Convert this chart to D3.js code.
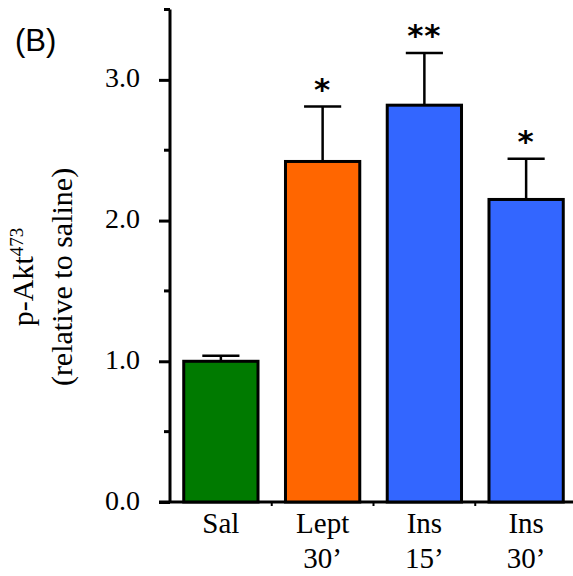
<!DOCTYPE html>
<html>
<head>
<meta charset="utf-8">
<script src="https://cdn.jsdelivr.net/npm/d3@7"></script>
<style>
  body { margin: 0; background: #fff; }
  text { fill: #000; }
</style>
</head>
<body>
<script>
"use strict";

///////////////////
// data
///////////////////

var categories = ["Sal", "Lept 30’", "Ins 15’", "Ins 30’"];
var labelLines = [["Sal"], ["Lept", "30’"], ["Ins", "15’"], ["Ins", "30’"]];
var means = [1.00, 2.42, 2.82, 2.15];
var sems = [0.04, 0.39, 0.37, 0.29];
var stars = ["", "*", "**", "*"];
var colors = ["#007a00", "#ff6600", "#3366ff", "#3366ff"];
var majorTicks = [0, 1, 2, 3];
var minorTicks = [0.5, 1.5, 2.5, 3.5];

(function() {
    var W = 573, H = 576;
    var serif = "'Liberation Serif', 'DejaVu Serif', serif";

    var svg = d3.select("body").append("svg")
        .attr("width", W).attr("height", H);

    var y = d3.scaleLinear().domain([0, 3.5]).range([502, 9.5]);
    var x = d3.scaleBand().domain(categories)
        .range([170, 577])
        .paddingInner(0.27)
        .paddingOuter(0.135);

    // y axis
    var yAxis = d3.axisLeft(y).tickValues(majorTicks)
        .tickSize(11).tickPadding(19)
        .tickFormat(d3.format(".1f"));
    var gy = svg.append("g").attr("transform", "translate(170,0)").call(yAxis);
    gy.select(".domain").attr("stroke-width", 3).attr("d", "M0," + y(3.5) + "V" + y(0));
    gy.selectAll(".tick line").attr("stroke-width", 3);
    gy.selectAll(".tick text")
        .attr("dy", "0.25em")
        .style("font-family", serif).style("font-size", "28px");
    gy.selectAll("line.minor").data(minorTicks).enter().append("line")
        .attr("class", "minor")
        .attr("x1", -6).attr("x2", 0)
        .attr("y1", function(d) { return y(d); })
        .attr("y2", function(d) { return y(d); })
        .attr("stroke", "#000").attr("stroke-width", 3);

    // x axis
    svg.append("line")
        .attr("x1", 159).attr("x2", W)
        .attr("y1", y(0)).attr("y2", y(0))
        .attr("stroke", "#000").attr("stroke-width", 3);
    var sepTicks = categories.slice(1).map(function(c) {
        return x(c) - x.step() * x.paddingInner() / 2;
    });
    svg.selectAll("line.sep").data(sepTicks).enter().append("line")
        .attr("class", "sep")
        .attr("x1", function(d) { return d; }).attr("x2", function(d) { return d; })
        .attr("y1", y(0)).attr("y2", y(0) + 4)
        .attr("stroke", "#000").attr("stroke-width", 2);

    var rows = categories.map(function(c, i) {
        return { cat: c, mean: means[i], sem: sems[i], star: stars[i], color: colors[i], lines: labelLines[i] };
    });

    // error bars (drawn first so bar outline sits on top)
    var bw = x.bandwidth();
    var err = svg.selectAll("g.err").data(rows).enter().append("g").attr("class", "err");
    err.append("line")
        .attr("x1", function(d) { return x(d.cat) + bw / 2; })
        .attr("x2", function(d) { return x(d.cat) + bw / 2; })
        .attr("y1", function(d) { return y(d.mean); })
        .attr("y2", function(d) { return y(d.mean + d.sem); })
        .attr("stroke", "#000").attr("stroke-width", 2.5);
    err.append("line")
        .attr("x1", function(d) { return x(d.cat) + bw / 4; })
        .attr("x2", function(d) { return x(d.cat) + bw * 3 / 4; })
        .attr("y1", function(d) { return y(d.mean + d.sem); })
        .attr("y2", function(d) { return y(d.mean + d.sem); })
        .attr("stroke", "#000").attr("stroke-width", 2.5);

    // bars
    svg.selectAll("rect.bar").data(rows).enter().append("rect")
        .attr("class", "bar")
        .attr("x", function(d) { return x(d.cat); })
        .attr("y", function(d) { return y(d.mean); })
        .attr("width", bw)
        .attr("height", function(d) { return y(0) - y(d.mean); })
        .attr("fill", function(d) { return d.color; })
        .attr("stroke", "#000").attr("stroke-width", 3);

    // significance stars
    svg.selectAll("text.star").data(rows).enter().append("text")
        .attr("class", "star")
        .attr("x", function(d) { return x(d.cat) + bw / 2; })
        .attr("y", function(d) { return y(d.mean + d.sem) - 7; })
        .attr("text-anchor", "middle")
        .style("font-family", "'DejaVu Sans', sans-serif")
        .style("font-size", "31px")
        .style("font-weight", "bold")
        .style("letter-spacing", "1px")
        .text(function(d) { return d.star; });

    // category labels
    var lab = svg.selectAll("text.cat").data(rows).enter().append("text")
        .attr("class", "cat")
        .attr("text-anchor", "middle")
        .style("font-family", serif).style("font-size", "29px");
    lab.selectAll("tspan").data(function(d) {
        return d.lines.map(function(l) { return { t: l, cx: x(d.cat) + bw / 2 }; });
    }).enter().append("tspan")
        .attr("x", function(d) { return d.cx; })
        .attr("y", function(d, i) { return 533 + i * 35; })
        .text(function(d) { return d.t; });

    // y title
    var yt = svg.append("text")
        .attr("transform", "translate(0,277) rotate(-90)")
        .attr("text-anchor", "middle")
        .style("font-family", serif).style("font-size", "30px");
    var l1 = yt.append("tspan").attr("x", 0).attr("y", 33);
    l1.append("tspan").text("p-Akt");
    l1.append("tspan").attr("dy", -10).style("font-size", "19px").text("473");
    yt.append("tspan").attr("x", 0).attr("y", 72).text("(relative to saline)");

    // panel letter
    svg.append("text")
        .attr("x", 15).attr("y", 51)
        .style("font-family", "'Liberation Sans', sans-serif")
        .style("font-size", "31px")
        .text("(B)");
})();
</script>
</body>
</html>
